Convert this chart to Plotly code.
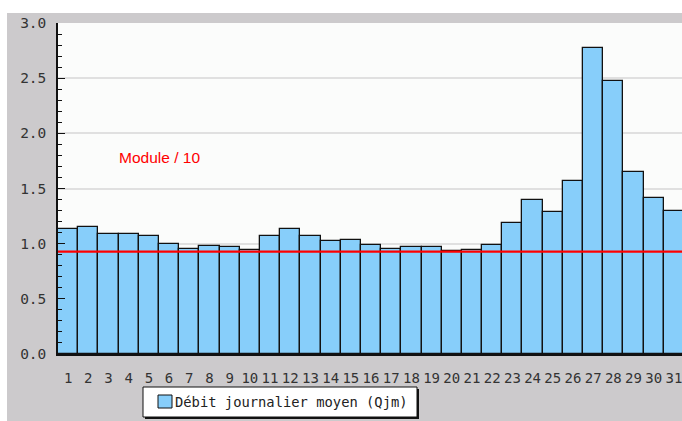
import plotly.graph_objects as go

# daily mean flow by day of month (m3/s)
days = list(range(1, 32))
debit = [1.13, 1.15, 1.09, 1.09, 1.07, 1.00, 0.95, 0.98, 0.97, 0.94,
         1.07, 1.13, 1.07, 1.02, 1.03, 0.99, 0.95, 0.97, 0.97, 0.93,
         0.945, 0.99, 1.19, 1.40, 1.29, 1.57, 2.77, 2.47, 1.65, 1.41, 1.30]
module_10 = 0.927
serie_name = "Débit journalier moyen (Qjm)"
module_label = "Module / 10"
y_ticks = [0.0, 0.5, 1.0, 1.5, 2.0, 2.5, 3.0]

W, H = 682, 421
L, R, T, B = 58, 0, 23, 67
pw, ph = W - L - R, H - T - B


def px(p):
    return (p - L) / pw


def py(p):
    return (H - B - p) / ph


mono = "DejaVu Sans Mono"

fig = go.Figure()
fig.add_trace(go.Bar(
    x=days, y=debit, name=serie_name,
    marker=dict(color="#87CEFA", line=dict(color="#111111", width=1.3)),
    width=1.0, showlegend=False,
))

shapes = [
    # white strips around gray frame
    dict(type="rect", xref="paper", yref="paper", x0=px(0), x1=px(W), y0=py(13), y1=py(0),
         fillcolor="white", line=dict(width=0), layer="below"),
    dict(type="rect", xref="paper", yref="paper", x0=px(0), x1=px(7), y0=py(H), y1=py(0),
         fillcolor="white", line=dict(width=0), layer="below"),
    # module / 10 line
    dict(type="line", xref="paper", yref="y", x0=0, x1=1, y0=module_10, y1=module_10,
         line=dict(color="#FF0000", width=2.2)),
    # legend shadow, box and swatch
    dict(type="rect", xref="paper", yref="paper", x0=px(145), x1=px(419), y0=py(419), y1=py(389),
         fillcolor="#111111", line=dict(width=0)),
    dict(type="rect", xref="paper", yref="paper", x0=px(143), x1=px(417), y0=py(417), y1=py(387),
         fillcolor="white", line=dict(color="#111111", width=1)),
    dict(type="rect", xref="paper", yref="paper", x0=px(158), x1=px(172), y0=py(408), y1=py(395),
         fillcolor="#87CEFA", line=dict(color="#111111", width=1)),
]

annotations = [
    dict(x=3.42, y=1.78, xref="x", yref="y", text=module_label, showarrow=False,
         xanchor="left", yanchor="middle",
         font=dict(family="Liberation Sans, Arial", size=15.5, color="#FF0000")),
    dict(x=px(173), y=py(402), xref="paper", yref="paper", text=serie_name, showarrow=False,
         xanchor="left", yanchor="middle", font=dict(family=mono, size=13.8, color="#222222")),
]

fig.update_layout(
    width=W, height=H,
    margin=dict(l=L, r=R, t=T, b=B, pad=0),
    paper_bgcolor="#CCCACC",
    plot_bgcolor="#FBFCFB",
    bargap=0,
    shapes=shapes,
    annotations=annotations,
    showlegend=False,
    font=dict(family=mono, size=14, color="#333333"),
)
fig.update_xaxes(
    range=[0.5, 31.4], tickvals=days, ticktext=[str(d) for d in days],
    showgrid=False, zeroline=False, showline=True, linecolor="#111111", linewidth=1.5,
    ticks="", ticklabelstandoff=10, ticklabeloverflow="allow",
    tickfont=dict(family=mono, size=14, color="#333333"),
)
fig.update_yaxes(
    range=[0, 3], tickvals=y_ticks, ticktext=[f"{v:.1f}" for v in y_ticks],
    showgrid=True, gridcolor="#E0E0E0", gridwidth=1.5, zeroline=False,
    showline=True, linecolor="#111111", linewidth=1.5,
    ticks="inside", ticklen=7, tickcolor="#111111", tickwidth=1.3,
    minor=dict(dtick=0.1, ticks="inside", ticklen=4, tickcolor="#111111", tickwidth=1.3, showgrid=False),
    ticklabelstandoff=7, tickfont=dict(family=mono, size=14.5, color="#333333"),
)

fig.write_html("out.html", config={"displayModeBar": False},
               post_script="document.body.style.margin='0';document.body.style.overflow='hidden';")
